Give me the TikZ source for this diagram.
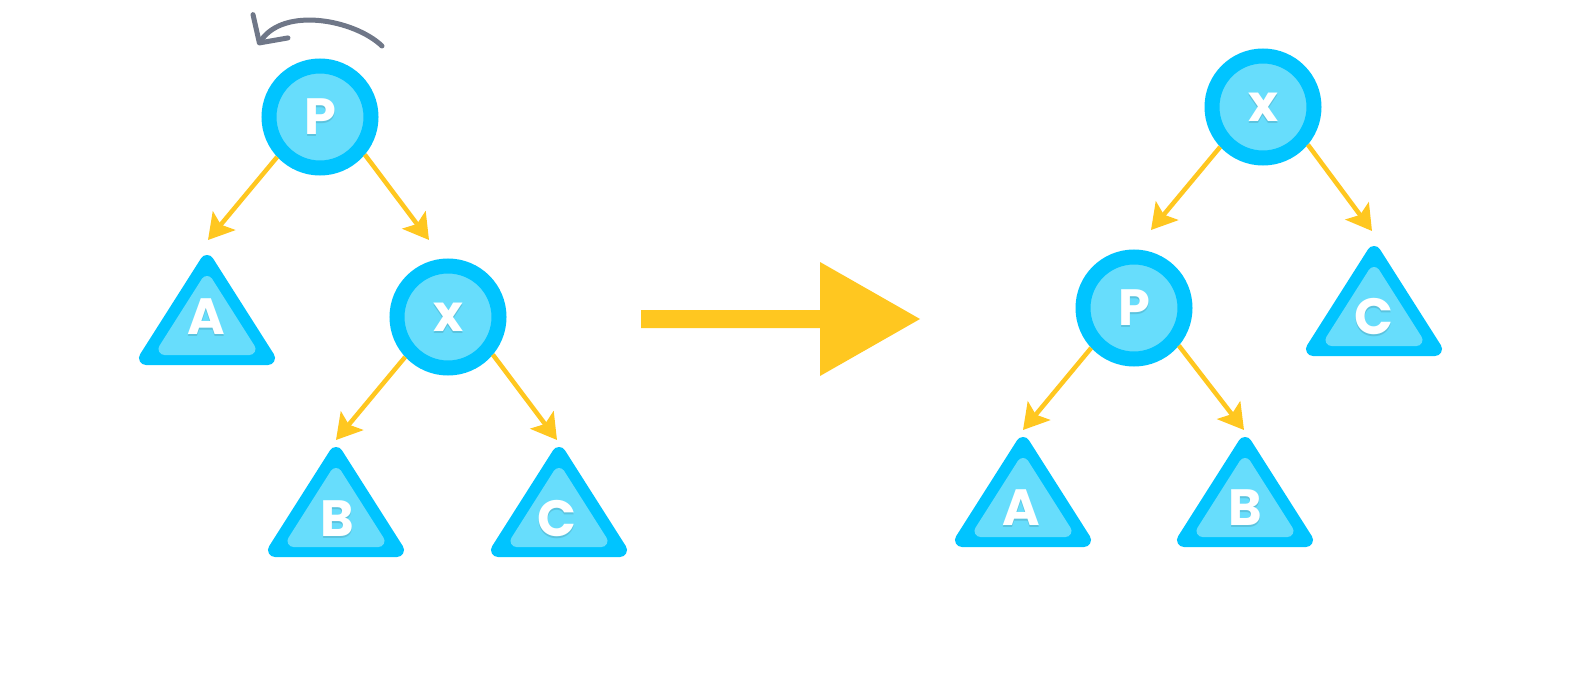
\documentclass[tikz,border=0pt]{standalone}
\usepackage{fontspec}
\setmainfont{Lato}
\newfontfamily\treefont{Poppins}
\usetikzlibrary{arrows.meta}
\definecolor{nodeblue}{RGB}{0,196,255}
\definecolor{nodelight}{RGB}{103,221,252}
\definecolor{edgeyellow}{RGB}{255,199,32}
\definecolor{turngray}{RGB}{111,119,136}
\colorlet{txtshadow}{nodelight!88!black}
\newcommand{\shadowed}[1]{\rlap{\smash{\raisebox{-2pt}{\hspace{0.4pt}\color{txtshadow}#1}}}#1}

\begin{document}
\begin{tikzpicture}[x=1pt,y=-1pt,
  vertex/.style={circle,minimum size=102pt,inner sep=0pt,line width=15pt,draw=nodeblue,fill=nodelight,text=white,font=\treefont\fontsize{51}{51}\selectfont\bfseries},
  subtree/.style={draw=nodeblue,fill=nodeblue,line width=14pt,line join=round},
  subtreein/.style={draw=nodelight,fill=nodelight,line width=12pt,line join=round},
  treename/.style={inner sep=0pt,text=white,font=\treefont\fontsize{51}{51}\selectfont\bfseries},
  edge/.style={draw=edgeyellow,line width=4.5pt,-{Stealth[length=25pt,width=29pt,inset=5pt]}},
  rotation/.style={draw=turngray,line width=5pt,line cap=round,-{Straight Barb[length=20pt,width=42pt,line cap=round,line join=round]}}]
\useasboundingbox (0,0) rectangle (1569,698);

% before the rotation
\begin{scope}[shift={(207,255)}]
\draw[subtree] (0,7) -- (-61,103) -- (61,103) -- cycle;
\draw[subtreein] (0,27) -- (-42.5,94) -- (42.5,94) -- cycle;
\end{scope}
\begin{scope}[shift={(336,447)}]
\draw[subtree] (0,7) -- (-61,103) -- (61,103) -- cycle;
\draw[subtreein] (0,27) -- (-42.5,94) -- (42.5,94) -- cycle;
\end{scope}
\begin{scope}[shift={(559,447)}]
\draw[subtree] (0,7) -- (-61,103) -- (61,103) -- cycle;
\draw[subtreein] (0,27) -- (-42.5,94) -- (42.5,94) -- cycle;
\end{scope}
\node[treename] (A1) at (206,317) {\shadowed{A}};
\node[treename] (B1) at (337,519) {\shadowed{B}};
\node[treename] (C1) at (557,519) {\shadowed{C}};

\node[vertex] (P1) at (320,117) {\shadowed{P}};
\node[vertex] (X1) at (448,317) {\shadowed{x}};

\coordinate (tA1) at (208,240);
\coordinate (tX1) at (429,240);
\coordinate (tB1) at (336,440);
\coordinate (tC1) at (557,440);
\draw[edge] (P1.-137) -- (tA1);
\draw[edge] (P1.-40) -- (tX1);
\draw[edge] (X1.-137) -- (tB1);
\draw[edge] (X1.-40) -- (tC1);

\draw[rotation] (382,46) .. controls (355,20) and (284,6) .. (258,45);

% big arrow
\fill[edgeyellow] (641,310) -- (820,310) -- (820,262) -- (920,319) -- (820,376) -- (820,328) -- (641,328) -- cycle;

% after the rotation
\begin{scope}[shift={(1374,246)}]
\draw[subtree] (0,7) -- (-61,103) -- (61,103) -- cycle;
\draw[subtreein] (0,27) -- (-42.5,94) -- (42.5,94) -- cycle;
\end{scope}
\begin{scope}[shift={(1023,437)}]
\draw[subtree] (0,7) -- (-61,103) -- (61,103) -- cycle;
\draw[subtreein] (0,27) -- (-42.5,94) -- (42.5,94) -- cycle;
\end{scope}
\begin{scope}[shift={(1245,437)}]
\draw[subtree] (0,7) -- (-61,103) -- (61,103) -- cycle;
\draw[subtreein] (0,27) -- (-42.5,94) -- (42.5,94) -- cycle;
\end{scope}
\node[treename] (C2) at (1374,317) {\shadowed{C}};
\node[treename] (A2) at (1021,508) {\shadowed{A}};
\node[treename] (B2) at (1245,508) {\shadowed{B}};

\node[vertex] (X2) at (1263,107) {\shadowed{x}};
\node[vertex] (P2) at (1134,308) {\shadowed{P}};

\coordinate (tP2) at (1151,230);
\coordinate (tC2) at (1372,231);
\coordinate (tA2) at (1023,430);
\coordinate (tB2) at (1244,430);
\draw[edge] (X2.-137) -- (tP2);
\draw[edge] (X2.-40) -- (tC2);
\draw[edge] (P2.-137) -- (tA2);
\draw[edge] (P2.-40) -- (tB2);
\end{tikzpicture}
\end{document}
